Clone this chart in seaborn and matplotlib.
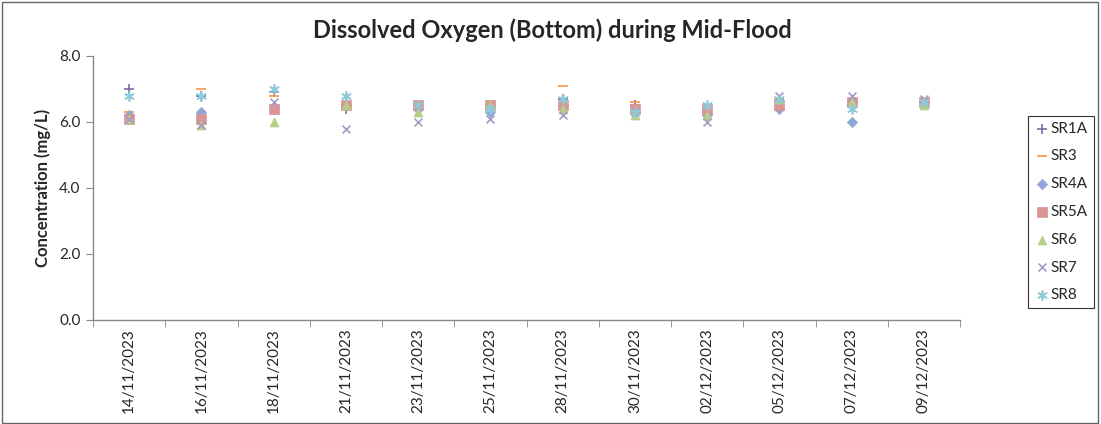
import pandas as pd
import matplotlib.pyplot as plt
import seaborn as sns
from matplotlib.patches import Rectangle

# sampling dates (category axis)
dates = ['14/11/2023', '16/11/2023', '18/11/2023', '21/11/2023', '23/11/2023', '25/11/2023',
         '28/11/2023', '30/11/2023', '02/12/2023', '05/12/2023', '07/12/2023', '09/12/2023']

# DO at bottom, mg/L
sr1a = [7.0, 6.8, 6.9, 6.4, 6.5, 6.4, 6.7, 6.5, 6.3, 6.6, 6.5, 6.6]
sr3 = [6.3, 7.0, 6.8, 6.5, 6.6, 6.5, 7.1, 6.6, 6.4, 6.7, 6.6, 6.6]
sr4a = [6.2, 6.3, 6.4, 6.5, 6.4, 6.3, 6.5, 6.3, 6.2, 6.4, 6.0, 6.6]
sr5a = [6.1, 6.1, 6.4, 6.5, 6.5, 6.5, 6.5, 6.4, 6.4, 6.5, 6.6, 6.6]
sr6 = [6.1, 5.9, 6.0, 6.5, 6.3, 6.5, 6.4, 6.2, 6.2, 6.7, 6.6, 6.5]
sr7 = [6.1, 5.9, 6.6, 5.8, 6.0, 6.1, 6.2, 6.3, 6.0, 6.8, 6.8, 6.7]
sr8 = [6.8, 6.8, 7.0, 6.8, 6.5, 6.4, 6.7, 6.3, 6.5, 6.7, 6.4, 6.6]

stations = ['SR1A', 'SR3', 'SR4A', 'SR5A', 'SR6', 'SR7', 'SR8']
values = [sr1a, sr3, sr4a, sr5a, sr6, sr7, sr8]
colors = ['#7E6BA6', '#F79646', '#8EA6D6', '#D99694', '#B5CE8C', '#A998C4', '#8FCADA']
markers = ['+', '_', 'D', 's', '^', 'x', (6, 2, 0)]
msizes = [45, 45, 28, 42, 42, 32, 45]
filled = [False, False, True, True, True, False, False]

rows = []
for st, vals in zip(stations, values):
    for i, v in enumerate(vals):
        rows.append({'pos': i, 'Station': st, 'DO': v})
df = pd.DataFrame(rows)

sns.set_style('white')
plt.rcParams['font.family'] = ['Lato', 'DejaVu Sans']

fig = plt.figure(figsize=(11.01, 4.24), dpi=100)
ax = fig.add_axes([0.0845, 0.2453, 0.7875, 0.6227])

for st, col, mk, ms, fl in zip(stations, colors, markers, msizes, filled):
    d = df[df.Station == st]
    if fl:
        sns.scatterplot(data=d, x='pos', y='DO', ax=ax, color=col, marker=mk, s=ms,
                        edgecolor=col, linewidth=0.5, label=st, zorder=3)
    else:
        sns.scatterplot(data=d, x='pos', y='DO', ax=ax, color=col, marker=mk, s=ms,
                        linewidth=1.2, label=st, zorder=3)

ax.set_xlim(-0.5, len(dates) - 0.5)
ax.set_ylim(0, 8)
ax.set_yticks([0, 2, 4, 6, 8])
ax.set_yticklabels([f'{v:.1f}' for v in [0, 2, 4, 6, 8]], fontsize=11)
ax.set_xticks(range(len(dates)))
ax.set_xticklabels(dates, rotation=90, fontsize=11)
ax.tick_params(axis='x', which='major', length=0, pad=6)
ax.set_xticks([i - 0.5 for i in range(len(dates) + 1)], minor=True)
ax.tick_params(axis='x', which='minor', length=5, color='#888888', direction='out', bottom=True)
ax.tick_params(axis='y', length=5, color='#888888', direction='out', left=True, pad=4)
for s in ['top', 'right']:
    ax.spines[s].set_visible(False)
for s in ['left', 'bottom']:
    ax.spines[s].set_color('#888888')
    ax.spines[s].set_linewidth(1)

ax.set_xlabel('')
ax.set_ylabel('Concentration (mg/L)', fontsize=12, fontweight='bold', labelpad=6)
fig.text(0.502, 1 - 30 / 424, 'Dissolved Oxygen (Bottom) during Mid-Flood', fontsize=17,
         fontweight='bold', ha='center', va='center')

leg = ax.legend(loc='center right', bbox_to_anchor=(1094 / 1101, 0.5), bbox_transform=fig.transFigure,
                frameon=True, fancybox=False, fontsize=11, handletextpad=0.1, borderpad=0.4,
                labelspacing=0.9, handlelength=1.0, borderaxespad=0)
leg.get_frame().set_edgecolor('black')
leg.get_frame().set_linewidth(0.8)

fig.patches.append(Rectangle((0.002, 0.003), 0.995, 0.993, transform=fig.transFigure,
                             fill=False, edgecolor='#666666', linewidth=1))

fig.savefig('out.png', dpi=100)
